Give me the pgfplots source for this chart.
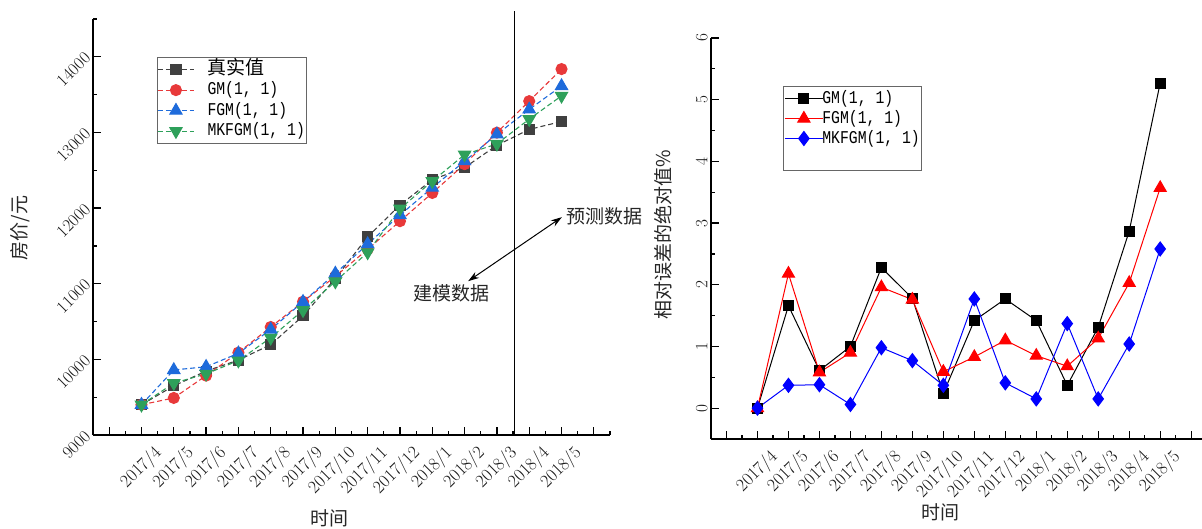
\documentclass[border=0pt]{standalone}
\usepackage{fontspec}
\usepackage{pgfplots}
\pgfplotsset{compat=1.18}
\usetikzlibrary{arrows.meta}
\newfontfamily\cjk{Noto Sans CJK SC}
\newfontfamily\legfont[FakeStretch=0.82]{Liberation Mono}
\definecolor{cgray}{HTML}{404040}
\definecolor{cred}{HTML}{E8393A}
\definecolor{cblue}{HTML}{1E6BDB}
\definecolor{cgreen}{HTML}{2EA05A}
\pgfplotsset{
  common/.style={
    scale only axis,
    axis x line=bottom, axis y line=left,
    axis line style={-, line width=1.3pt},
    tick align=inside,
    major tick length=8pt, minor tick length=4pt,
    every tick/.style={line width=1.2pt, black},
    xtick={-1,0,...,14},
    xticklabels={{},2017/4,2017/5,2017/6,2017/7,2017/8,2017/9,2017/10,2017/11,2017/12,2018/1,2018/2,2018/3,2018/4,2018/5,{}},
    minor xtick={-0.5,0.5,...,14.5},
    xticklabel style={xshift=11pt, yshift=-4pt, rotate=45, anchor=north east, font=\fontsize{18}{18}\selectfont, text=black!90},
    clip=false,
  }
}
\begin{document}
\begin{tikzpicture}
\useasboundingbox (0,0) rectangle (1202pt,-529pt);
% ---------------- left chart ----------------
\begin{axis}[common,
  at={(93pt,-435pt)}, anchor=south west,
  width=517pt, height=416pt,
  xmin=-1.5, xmax=14.5, ymin=9000, ymax=14500,
  ytick={9000,10000,...,14000},
  minor ytick={9500,10500,...,14500},
  yticklabel style={xshift=-3pt, yshift=4pt, rotate=45, anchor=east, font=\fontsize{18}{18}\selectfont, text=black!90},
  scaled y ticks=false,
  yticklabel={\pgfmathprintnumber[fixed,precision=0,1000 sep={}]{\tick}},
  xlabel={\cjk\fontsize{19}{19}\selectfont 时间},
  xlabel style={at={(axis description cs:0.458,-0.2)}, anchor=center, text=black!85},
  ylabel={\cjk\fontsize{19}{19}\selectfont 房价/元},
  ylabel style={at={(axis description cs:-0.141,0.4976)}, anchor=center, rotate=0, text=black!85},
  legend style={at={(0.1238,0.9087)}, anchor=north west, draw=black!60, line width=0.8pt,
    font=\legfont\fontsize{18}{18}\selectfont, inner xsep=0pt, inner ysep=2pt,
    nodes={inner sep=1pt, text height=14pt, text depth=4.5pt},
    /tikz/every odd column/.append style={column sep=12pt}},
  legend cell align=left,
  legend image code/.code={\draw[mark repeat=2,mark phase=2] plot coordinates {(0pt,0pt) (18pt,0pt) (36pt,0pt)};},
]
\addplot[cgray, line width=1.1pt, dash pattern=on 5pt off 3pt, mark=square*, mark size=5pt, mark options={solid, fill=cgray}] coordinates {
(0,9400) (1,9650) (2,9845) (3,9990) (4,10195) (5,10575) (6,11070) (7,11620) (8,12040) (9,12375) (10,12535) (11,12830) (12,13040) (13,13145)};
\addlegendentry{{\cjk\fontsize{19}{19}\selectfont 真实值}}
\addplot[cred, line width=1.1pt, dash pattern=on 5pt off 3pt, mark=*, mark size=5.5pt, mark options={solid, fill=cred}] coordinates {
(0,9400) (1,9490) (2,9785) (3,10090) (4,10428) (5,10763) (6,11097) (7,11455) (8,11827) (9,12200) (10,12581) (11,12998) (12,13414) (13,13838)};
\addlegendentry{GM(1, 1)}
\addplot[cblue, line width=1.1pt, dash pattern=on 5pt off 3pt, mark=triangle*, mark size=7pt, mark options={solid, fill=cblue}] coordinates {
(0,9400) (1,9860) (2,9902) (3,10080) (4,10395) (5,10761) (6,11135) (7,11524) (8,11908) (9,12270) (10,12620) (11,12975) (12,13305) (13,13614)};
\addlegendentry{FGM(1, 1)}
\addplot[cgreen, line width=1.1pt, dash pattern=on 5pt off 3pt, mark=triangle*, mark size=7pt, mark options={solid, fill=cgreen, rotate=180}] coordinates {
(0,9400) (1,9686) (2,9808) (3,9984) (4,10285) (5,10650) (6,11029) (7,11414) (8,11991) (9,12356) (10,12707) (11,12849) (12,13176) (13,13484)};
\addlegendentry{MKFGM(1, 1)}
\draw[line width=1.2pt] (axis cs:11.55,9000) -- (axis cs:11.55,14600);
\draw[{Stealth[length=11pt,width=7pt]}-{Stealth[length=11pt,width=7pt]}, line width=1pt] (axis cs:10.11,11034) -- (axis cs:13.01,11880);
\node[font=\cjk\fontsize{19}{19}\selectfont, text=black!85, anchor=center] at (axis cs:9.58,10876) {建模数据};
\node[font=\cjk\fontsize{19}{19}\selectfont, text=black!85, anchor=west, inner sep=0pt] at (axis cs:13.16,11893) {预测数据};
\end{axis}
% ---------------- right chart ----------------
\begin{axis}[common,
  at={(711pt,-439pt)}, anchor=south west,
  width=491pt, height=401pt,
  xmin=-1.5, xmax=14.35, ymin=-0.5, ymax=6,
  ytick={0,1,...,6},
  minor ytick={0.5,1.5,...,5.5},
  yticklabel style={rotate=90, anchor=south, font=\fontsize{18}{18}\selectfont, text=black!90},
  xlabel={\cjk\fontsize{19}{19}\selectfont 时间},
  xlabel style={at={(axis description cs:0.468,-0.182)}, anchor=center, text=black!85},
  ylabel={\cjk\fontsize{19}{19}\selectfont 相对误差的绝对值\%},
  ylabel style={at={(axis description cs:-0.0978,0.509)}, anchor=center, rotate=0, text=black!85},
  legend style={at={(0.1466,0.880)}, anchor=north west, draw=black!60, line width=0.8pt,
    font=\legfont\fontsize{18}{18}\selectfont, inner xsep=1pt, inner ysep=2pt,
    nodes={inner sep=1pt, text height=13.5pt, text depth=4.5pt},
    /tikz/every odd column/.append style={column sep=-2pt}},
  legend cell align=left,
  legend image code/.code={\draw[mark repeat=2,mark phase=2] plot coordinates {(0pt,0pt) (19pt,0pt) (38pt,0pt)};},
]
\addplot[black, line width=1pt, mark=square*, mark size=5pt, mark options={fill=black}] coordinates {
(0,0) (1,1.66) (2,0.61) (3,1.0) (4,2.28) (5,1.78) (6,0.24) (7,1.42) (8,1.77) (9,1.42) (10,0.37) (11,1.31) (12,2.87) (13,5.27)};
\addlegendentry{GM(1, 1)}
\addplot[red, line width=1pt, mark=triangle*, mark size=7pt, mark options={fill=red}] coordinates {
(0,0) (1,2.18) (2,0.58) (3,0.9) (4,1.96) (5,1.76) (6,0.59) (7,0.83) (8,1.10) (9,0.85) (10,0.68) (11,1.13) (12,2.03) (13,3.57)};
\addlegendentry{FGM(1, 1)}
\addplot[blue, line width=1pt, mark=diamond*, mark size=7pt, mark options={fill=blue}] coordinates {
(0,0) (1,0.37) (2,0.38) (3,0.06) (4,0.98) (5,0.77) (6,0.37) (7,1.77) (8,0.41) (9,0.15) (10,1.37) (11,0.15) (12,1.04) (13,2.58)};
\addlegendentry{MKFGM(1, 1)}
\addlegendimage{empty legend}
\addlegendentry{}
\end{axis}
\end{tikzpicture}
\end{document}
